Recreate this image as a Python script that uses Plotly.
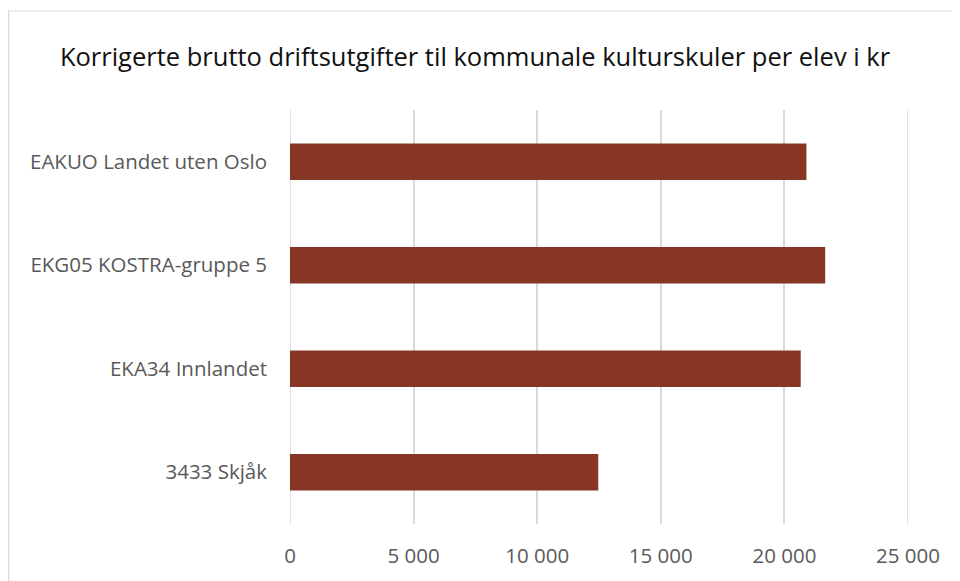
import plotly.graph_objects as go

categories = ["3433 Skjåk", "EKA34 Innlandet", "EKG05 KOSTRA-gruppe 5", "EAKUO Landet uten Oslo"]
values = [12470, 20660, 21650, 20890]
tick_vals = [0, 5000, 10000, 15000, 20000, 25000]
tick_text = ["0", "5 000", "10 000", "15 000", "20 000", "25 000"]
title = "Korrigerte brutto driftsutgifter til kommunale kulturskuler per elev i kr"

FONT = "Open Sans"
OFF = 8  # page body margin
W, H = 960 - OFF, 581 - OFF
L, R, T, B = 290 - OFF, 52, 110 - OFF, 57
pw, ph = W - L - R, H - T - B
GRID = "#d9d9d9"

fig = go.Figure(go.Bar(
    x=values, y=categories, orientation="h",
    marker=dict(color="#873626", line=dict(width=0)),
))

edge_lines = [dict(type="line", xref="x", yref="paper", x0=v, x1=v, y0=0, y1=1,
                   line=dict(color=GRID, width=1.5), layer="below")
              for v in (tick_vals[0], tick_vals[-1])]

fig.update_layout(
    width=W, height=H,
    margin=dict(l=L, r=R, t=T, b=B, autoexpand=False),
    paper_bgcolor="white", plot_bgcolor="white",
    bargap=0.645,
    showlegend=False,
    title=dict(text=title, x=(475 - OFF) / W, xanchor="center", y=1 - (57 - OFF) / H, yanchor="middle",
               font=dict(family=FONT, size=25.5, color="#111111")),
    font=dict(family=FONT),
    xaxis=dict(range=[0, 25000], tickvals=tick_vals, ticktext=tick_text,
               showgrid=True, gridcolor=GRID, gridwidth=1.5,
               zeroline=False, showline=False, ticks="",
               tickfont=dict(family=FONT, size=20.5, color="#595959"),
               ticklabelstandoff=17, fixedrange=True),
    yaxis=dict(showgrid=False, zeroline=False, showline=False, ticks="",
               tickfont=dict(family=FONT, size=20.5, color="#595959"),
               ticklabelstandoff=22, fixedrange=True),
    shapes=edge_lines + [dict(type="rect", xref="paper", yref="paper",
                 x0=(8.6 - 290) / pw, x1=(975 - 290) / pw,
                 y0=-(620 - 524) / ph, y1=1 + (110 - 11) / ph,
                 line=dict(color=GRID, width=1.2), layer="below")],
)

fig.write_html("out.html")
